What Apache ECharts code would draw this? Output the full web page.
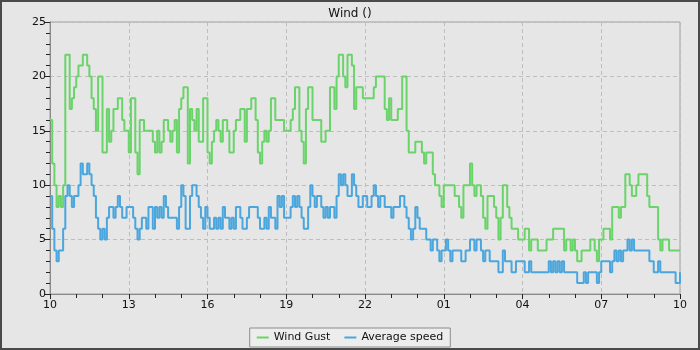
<!DOCTYPE html>
<html>
<head>
<meta charset="utf-8">
<script src="https://cdn.jsdelivr.net/npm/echarts@6/dist/echarts.min.js"></script>
<style>
  html, body { margin: 0; padding: 0; background: #e6e6e6; }
  #chart { width: 700px; height: 350px; }
</style>
</head>
<body>
<div id="chart"></div>
<script>
// Readings every 5 minutes over 24 hours, starting at 10:00
const stepMinutes = 5;
const xTickLabels = ['10', '13', '16', '19', '22', '01', '04', '07', '10'];
const seriesNames = ['Wind Gust', 'Average speed'];

const windGust = [
  16,12,10,8,9,8,10,22,22,17,18,19,
  20,21,21,22,22,21,20,18,17,15,20,20,
  13,13,17,14,15,17,17,18,18,16,15,15,
  13,18,18,13,11,16,16,15,15,15,15,14,
  13,15,13,14,16,16,15,14,15,16,13,17,
  18,19,19,12,17,16,15,17,14,14,18,18,
  13,12,14,15,16,15,14,16,16,15,13,13,
  15,16,16,17,17,14,17,17,18,18,16,13,
  12,14,15,14,15,18,18,16,16,16,16,15,
  15,15,16,17,19,19,15,14,12,17,19,19,
  16,16,16,16,14,14,15,15,19,19,17,20,
  22,22,20,19,22,22,21,17,19,19,19,18,
  18,18,18,18,19,20,20,20,20,17,16,18,
  16,16,16,17,17,20,20,15,13,13,13,14,
  14,14,13,12,13,13,13,11,10,10,9,8,
  10,10,10,10,10,9,9,8,7,10,10,10,
  12,10,9,10,10,9,7,6,9,9,9,8,
  7,5,7,10,10,8,7,6,6,6,5,5,
  5,6,6,4,5,5,5,4,4,4,4,5,
  5,5,6,6,6,6,6,4,5,5,4,5,
  4,3,3,4,4,4,4,5,5,4,3,5,
  5,6,6,6,5,8,8,8,7,8,8,11,
  11,10,9,9,10,11,11,11,11,9,8,8,
  8,8,5,4,5,5,5,4,4,4,4,4,
  4
];

const averageSpeed = [
  9,6,4,3,4,4,6,9,10,9,8,9,
  9,10,12,11,11,12,11,10,9,7,6,5,
  6,5,7,8,8,7,8,9,8,7,7,8,
  8,8,7,6,5,6,7,7,6,8,8,6,
  8,7,8,7,9,8,7,7,7,7,6,8,
  10,9,6,6,9,10,10,9,8,7,6,8,
  7,6,6,7,6,7,6,8,7,7,6,7,
  6,8,8,7,6,6,7,8,8,8,8,7,
  6,6,7,6,8,7,7,6,9,8,9,7,
  7,7,8,9,8,9,8,7,6,6,8,10,
  9,8,9,9,8,7,8,7,8,8,7,9,
  11,10,11,10,9,9,11,10,9,8,8,9,
  9,8,8,9,10,9,8,9,9,8,8,8,
  7,8,8,8,9,9,8,7,6,5,6,8,
  7,6,6,6,5,5,4,5,5,4,3,4,
  4,5,4,3,4,4,4,4,3,3,4,4,
  5,5,4,5,5,4,3,4,4,3,3,3,
  3,2,2,4,3,3,3,2,2,3,3,3,
  3,2,2,3,2,2,2,2,2,2,2,2,
  3,2,3,2,3,2,3,2,2,2,2,2,
  2,1,1,1,2,1,2,2,2,2,1,2,
  3,3,3,3,2,3,4,3,4,3,4,4,
  5,4,5,4,4,4,4,4,4,4,3,3,
  2,2,3,2,2,2,2,2,2,2,1,1,
  2
];

const toPoints = arr => arr.map((v, i) => [i * stepMinutes, v]);
const FONT = 'DejaVu Sans';
const labelInterval = 180;

const chart = echarts.init(document.getElementById('chart'), null, { renderer: 'canvas' });
chart.setOption({
  animation: false,
  backgroundColor: '#e6e6e6',
  title: {
    text: 'Wind ()',
    left: 'center',
    top: 3,
    textStyle: { fontFamily: FONT, fontSize: 12, fontWeight: 'normal', color: '#111' }
  },
  legend: {
    data: seriesNames,
    left: 'center',
    bottom: 3,
    icon: 'rect',
    itemWidth: 12,
    itemHeight: 2,
    itemGap: 14,
    padding: [4, 7],
    backgroundColor: '#ededed',
    borderColor: '#8c8c8c',
    borderWidth: 1,
    textStyle: { fontFamily: FONT, fontSize: 11, color: '#111' }
  },
  grid: {
    left: 50, right: 20, top: 22, bottom: 56,
    show: true,
    borderColor: '#a0a0a0',
    borderWidth: 1,
    backgroundColor: 'transparent'
  },
  xAxis: {
    type: 'value',
    min: 0,
    max: 1440,
    interval: labelInterval,
    axisLine: { lineStyle: { color: '#8a8a8a', width: 1 } },
    axisTick: { show: true, length: 5, lineStyle: { color: '#222' } },
    minorTick: { show: true, splitNumber: 3, length: 4, lineStyle: { color: '#222' } },
    axisLabel: {
      margin: 6,
      fontFamily: FONT, fontSize: 11, color: '#111',
      formatter: v => xTickLabels[Math.round(v / labelInterval)]
    },
    splitLine: { show: true, lineStyle: { color: '#bdbdbd', type: [4, 3], width: 1 } }
  },
  yAxis: {
    type: 'value',
    min: 0,
    max: 25,
    interval: 5,
    axisLine: { show: true, lineStyle: { color: '#8a8a8a', width: 1 } },
    axisTick: { show: true, length: 5, lineStyle: { color: '#222' } },
    minorTick: { show: true, splitNumber: 5, length: 4, lineStyle: { color: '#222' } },
    axisLabel: { margin: 4, fontFamily: FONT, fontSize: 11, color: '#111' },
    splitLine: { show: true, lineStyle: { color: '#bdbdbd', type: [4, 3], width: 1 } }
  },
  series: [
    {
      name: seriesNames[0],
      type: 'line',
      step: 'end',
      showSymbol: false,
      color: '#6ad46a',
      lineStyle: { width: 2, color: '#6ad46a' },
      data: toPoints(windGust)
    },
    {
      name: seriesNames[1],
      type: 'line',
      step: 'end',
      showSymbol: false,
      color: '#4aa6dc',
      lineStyle: { width: 2, color: '#4aa6dc' },
      data: toPoints(averageSpeed)
    }
  ],
  graphic: [{
    type: 'rect',
    silent: true,
    z: 100,
    shape: { x: 1, y: 1, width: 698, height: 348 },
    style: { fill: 'none', stroke: '#4a4a4a', lineWidth: 2 }
  }]
});
</script>
</body>
</html>
